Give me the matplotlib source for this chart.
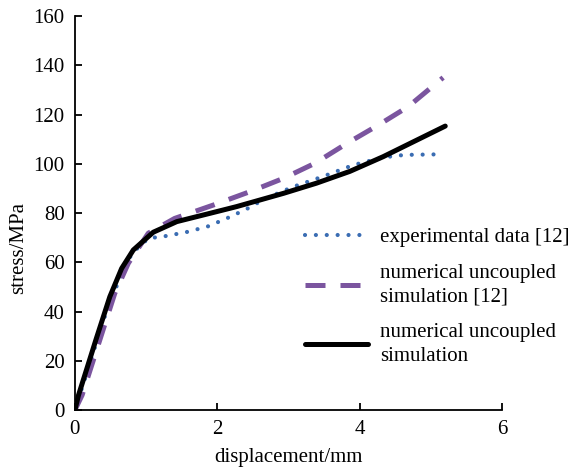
import matplotlib
matplotlib.use("Agg")
import matplotlib.pyplot as plt

matplotlib.rcParams['font.family'] = ['Liberation Serif', 'DejaVu Serif']

# experimental data [12]
exp_x = [0.0, 0.2, 0.4, 0.61, 0.8, 1.03, 1.29, 1.59, 1.87, 2.13, 2.41, 2.67, 3.07, 3.49, 3.91, 4.33, 4.63, 5.06]
exp_y = [0.0, 18.0, 36.5, 52.1, 63.6, 69.7, 70.7, 72.4, 74.6, 77.8, 81.6, 85.8, 90.7, 94.9, 99.5, 102.6, 103.6, 103.8]

# numerical uncoupled simulation [12]
ref_x = [0.0, 0.1, 0.3, 0.56, 0.75, 1.03, 1.4, 1.94, 2.46, 2.93, 3.37, 3.82, 4.26, 4.68, 5.1, 5.17]
ref_y = [0.0, 6.0, 24.0, 47.4, 59.6, 71.8, 77.8, 83.2, 88.7, 94.1, 100.2, 108.3, 115.7, 123.2, 133.3, 135.0]

# numerical uncoupled simulation (present)
sim_x = [0.0, 0.05, 0.3, 0.49, 0.656, 0.82, 1.1, 1.43, 1.9, 2.27, 2.6, 2.93, 3.39, 3.86, 4.33, 4.8, 5.2]
sim_y = [0.0, 6.0, 29.0, 46.0, 57.5, 65.0, 72.2, 76.5, 79.9, 82.6, 85.3, 88.0, 92.1, 96.9, 102.9, 109.6, 115.3]

fig = plt.figure(figsize=(5.72, 4.71), dpi=100)
ax = fig.add_axes([0.131, 0.1295, 0.747, 0.8365])

ax.plot(exp_x, exp_y, color='#3b6db3', lw=3.0, linestyle=(0, (0.01, 2.6)),
        dash_capstyle='round', label='experimental data [12]')
ax.plot(ref_x, ref_y, color='#7b559f', lw=3.6, linestyle=(0, (4.0, 3.0)),
        label='numerical uncoupled\nsimulation [12]')
ax.plot(sim_x, sim_y, color='black', lw=3.6, solid_capstyle='round',
        solid_joinstyle='round', label='numerical uncoupled\nsimulation')

ax.set_xlim(0, 6)
ax.set_ylim(0, 160)
ax.set_xticks([0, 2, 4, 6])
ax.set_yticks(range(0, 161, 20))
ax.spines['top'].set_visible(False)
ax.spines['right'].set_visible(False)
for s in ('left', 'bottom'):
    ax.spines[s].set_linewidth(1.3)
ax.tick_params(direction='in', length=5, width=1.3, labelsize=15, pad=7.5)

ax.set_xlabel('displacement/mm', fontsize=15, labelpad=6)
ax.set_ylabel('stress/MPa', fontsize=15)
ax.yaxis.set_label_coords(-0.11, 0.41)

leg = ax.legend(loc='upper left', bbox_to_anchor=(0.52, 0.485), frameon=False,
                fontsize=15, handlelength=3.0, handletextpad=0.6, labelspacing=0.8,
                borderaxespad=0)
for t in leg.get_texts():
    t.set_linespacing(1.35)

fig.savefig('out.png', dpi=100)
